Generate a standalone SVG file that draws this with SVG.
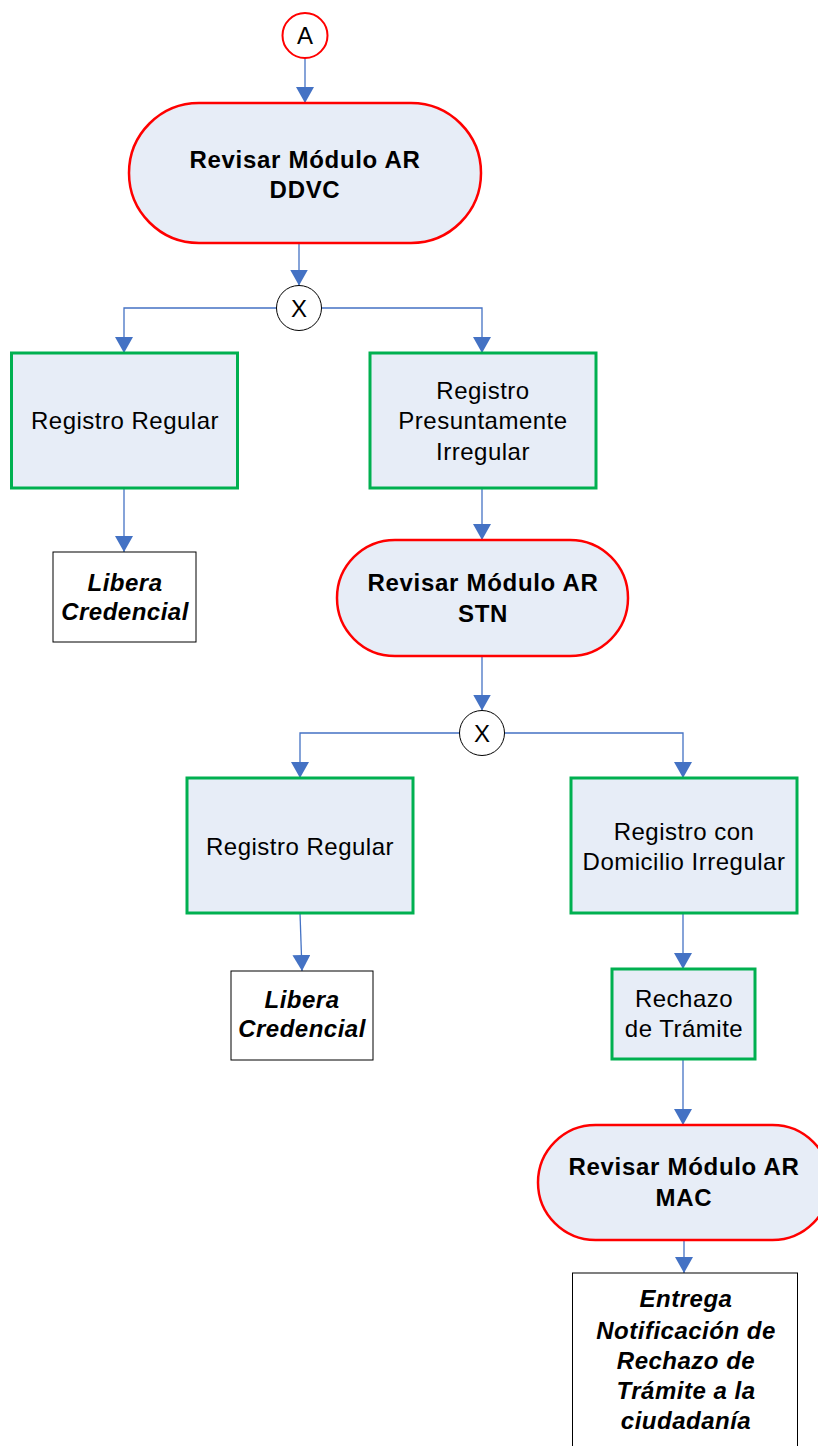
<svg xmlns="http://www.w3.org/2000/svg" width="818" height="1446" viewBox="0 0 818 1446">
<style>
.term{fill:#E7EDF7;stroke:#FF0000;stroke-width:2.5}
.proc{fill:#E7EDF7;stroke:#00B050;stroke-width:3}
.out{fill:#FFFFFF;stroke:#000000;stroke-width:1}
.gw{fill:#FFFFFF;stroke:#000000;stroke-width:1}
.conn{fill:none;stroke:#4472C4;stroke-width:1.3}
text{font-family:"Liberation Sans",Arial,sans-serif;font-size:24px;fill:#000;text-anchor:middle}
.b{font-weight:bold;letter-spacing:0.7px}
.bi{font-weight:bold;font-style:italic;letter-spacing:0.5px}
.r{letter-spacing:0.5px}
</style>
<defs>
<marker id="arr" viewBox="0 0 16 18" refX="16" refY="9" markerWidth="16" markerHeight="18" markerUnits="userSpaceOnUse" orient="auto">
<path d="M0,0 L16,9 L0,18 z" fill="#4472C4"/>
</marker>
</defs>
<rect width="818" height="1446" fill="#FFFFFF"/>
<g id="connectors">
<path class="conn" marker-end="url(#arr)" d="M305,58 L305,103"/>
<path class="conn" marker-end="url(#arr)" d="M299,243 L299,285.5"/>
<path class="conn" marker-end="url(#arr)" d="M276.5,308 L124,308 L124,353"/>
<path class="conn" marker-end="url(#arr)" d="M321.5,308 L482,308 L482,353"/>
<path class="conn" marker-end="url(#arr)" d="M124,488 L124,552"/>
<path class="conn" marker-end="url(#arr)" d="M482,488 L482,540"/>
<path class="conn" marker-end="url(#arr)" d="M482,656 L482,710.5"/>
<path class="conn" marker-end="url(#arr)" d="M459.5,733 L300,733 L300,778"/>
<path class="conn" marker-end="url(#arr)" d="M504.5,733 L683,733 L683,778"/>
<path class="conn" marker-end="url(#arr)" d="M300,913 L302,971"/>
<path class="conn" marker-end="url(#arr)" d="M683,913 L683,969"/>
<path class="conn" marker-end="url(#arr)" d="M683,1059 L683,1125"/>
<path class="conn" marker-end="url(#arr)" d="M684,1240 L684,1273"/>
</g>
<g id="start-A">
<circle cx="305" cy="35.5" r="22.5" fill="#FFFFFF" stroke="#FF0000" stroke-width="2"/>
<text x="305" y="44">A</text>
</g>
<g id="revisar-ddvc">
<rect class="term" x="129" y="103" width="352" height="140" rx="70" ry="70"/>
<text class="b" x="305" y="168">Revisar Módulo AR</text>
<text class="b" x="305" y="198">DDVC</text>
</g>
<g id="gateway-1">
<circle class="gw" cx="299" cy="308" r="22.5"/>
<text x="299" y="317">X</text>
</g>
<g id="registro-regular-1">
<rect class="proc" x="11.5" y="353" width="226" height="135"/>
<text class="r" x="125" y="429">Registro Regular</text>
</g>
<g id="registro-presuntamente">
<rect class="proc" x="370" y="353" width="226" height="135"/>
<text class="r" x="483" y="399">Registro</text>
<text class="r" x="483" y="429">Presuntamente</text>
<text class="r" x="483" y="460">Irregular</text>
</g>
<g id="libera-1">
<rect class="out" x="53" y="552" width="143" height="90"/>
<text class="bi" x="125" y="591">Libera</text>
<text class="bi" x="125" y="620">Credencial</text>
</g>
<g id="revisar-stn">
<rect class="term" x="337" y="540" width="291" height="116" rx="58" ry="58"/>
<text class="b" x="483" y="591">Revisar Módulo AR</text>
<text class="b" x="483" y="622">STN</text>
</g>
<g id="gateway-2">
<circle class="gw" cx="482" cy="733" r="22.5"/>
<text x="482" y="742">X</text>
</g>
<g id="registro-regular-2">
<rect class="proc" x="187" y="778" width="226" height="135"/>
<text class="r" x="300" y="855">Registro Regular</text>
</g>
<g id="registro-domicilio">
<rect class="proc" x="571" y="778" width="226" height="135"/>
<text class="r" x="684" y="840">Registro con</text>
<text class="r" x="684" y="870">Domicilio Irregular</text>
</g>
<g id="libera-2">
<rect class="out" x="231" y="971" width="142" height="89"/>
<text class="bi" x="302" y="1008">Libera</text>
<text class="bi" x="302" y="1037">Credencial</text>
</g>
<g id="rechazo">
<rect class="proc" x="612" y="969" width="143" height="90"/>
<text class="r" x="684" y="1007">Rechazo</text>
<text class="r" x="684" y="1037">de Trámite</text>
</g>
<g id="revisar-mac">
<rect class="term" x="538" y="1125" width="292" height="115" rx="57.5" ry="57.5"/>
<text class="b" x="684" y="1175">Revisar Módulo AR</text>
<text class="b" x="684" y="1206">MAC</text>
</g>
<g id="entrega">
<rect class="out" x="572.5" y="1273" width="225" height="190"/>
<text class="bi" x="686" y="1307">Entrega</text>
<text class="bi" x="686" y="1339">Notificación de</text>
<text class="bi" x="686" y="1369">Rechazo de</text>
<text class="bi" x="686" y="1399">Trámite a la</text>
<text class="bi" x="686" y="1429">ciudadanía</text>
</g>
</svg>
